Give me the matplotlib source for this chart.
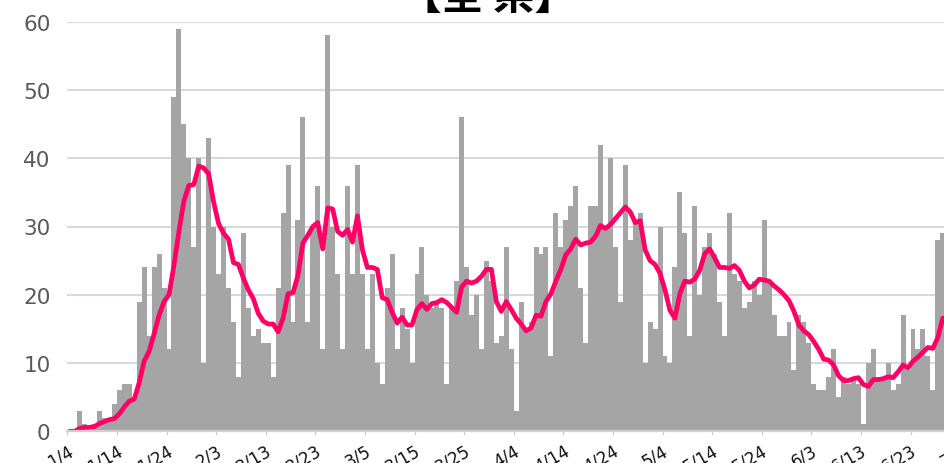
import matplotlib
matplotlib.use("Agg")
import matplotlib.pyplot as plt
import numpy as np
import pandas as pd

# ---- data (daily counts from 1/4) ----
daily = [
    0, 0, 3, 1, 0, 1, 3, 2, 2, 4,
    6, 7, 7, 5, 19, 24, 14, 24, 26, 21,
    12, 49, 59, 45, 40, 27, 40, 10, 43, 30,
    23, 30, 21, 16, 8, 29, 18, 14, 15, 13,
    13, 8, 21, 32, 39, 16, 31, 46, 16, 30,
    36, 12, 58, 30, 23, 12, 36, 23, 39, 23,
    12, 23, 10, 7, 21, 26, 12, 18, 15, 10,
    23, 27, 20, 18, 19, 18, 7, 18, 22, 46,
    24, 17, 20, 12, 25, 22, 13, 14, 27, 12,
    3, 19, 15, 16, 27, 26, 27, 11, 32, 27,
    31, 33, 36, 21, 13, 33, 33, 42, 30, 40,
    27, 19, 39, 28, 31, 32, 10, 16, 15, 30,
    11, 10, 24, 35, 29, 14, 33, 20, 27, 29,
    26, 19, 14, 32, 23, 22, 18, 19, 22, 20,
    31, 22, 17, 14, 14, 16, 9, 17, 16, 13,
    7, 6, 6, 8, 12, 5, 8, 7, 8, 7,
    1, 10, 12, 8, 8, 10, 6, 7, 17, 9,
    15, 12, 15, 11, 6, 28, 29,
]
tick_labels = ["1/4", "1/14", "1/24", "2/3", "2/13", "2/23", "3/5", "3/15",
               "3/25", "4/4", "4/14", "4/24", "5/4", "5/14", "5/24", "6/3",
               "6/13", "6/23", "7/3"]
title = "【全 県】"

# 7-day average of the daily counts
ma = pd.Series(daily, dtype=float).rolling(7, min_periods=1).sum() / 7.0

W, H = 944, 464
fig = plt.figure(figsize=(W / 100, H / 100), dpi=100)
left_px, px_day = 67.3, 4.96
xmax = 182
y0_px, y60_px = 432.3, 22.7
ax = fig.add_axes([left_px / W, (H - y0_px) / H, xmax * px_day / W, (y0_px - y60_px) / H])

x = np.arange(len(daily))
ax.bar(x, daily, width=1.0, align="edge", color="#a5a5a5", linewidth=0, zorder=2)
ax.plot(x + 0.5, ma.values, color="#ff0066", lw=3.4, zorder=3,
        solid_joinstyle="round", solid_capstyle="round")

ax.set_xlim(0, xmax)
ax.set_ylim(0, 60)
ax.set_yticks(range(0, 61, 10))
ax.yaxis.grid(True, color="#d9d9d9", lw=1.5, zorder=0)
ax.set_axisbelow(True)
for s in ("top", "right", "left"):
    ax.spines[s].set_visible(False)
ax.spines["bottom"].set_color("#d0d0d0")
ax.spines["bottom"].set_linewidth(1.6)
ax.spines["bottom"].set_zorder(4)

ax.tick_params(axis="y", length=0, labelsize=15.5, labelcolor="#595959", pad=12)
ax.set_xticks(np.arange(len(tick_labels)) * 10)
ax.set_xticklabels(tick_labels, rotation=30, ha="right", va="top",
                   rotation_mode="anchor", fontsize=12, color="#111111")
ax.tick_params(axis="x", direction="out", length=3, width=1, color="#d0d0d0", pad=4)

fig.text(488 / W, 1 - 9 / H, title, ha="center", va="baseline", fontsize=30,
         fontweight="bold", family=["Noto Sans CJK JP", "DejaVu Sans"], color="#000000")

fig.savefig("out.png", dpi=100)
